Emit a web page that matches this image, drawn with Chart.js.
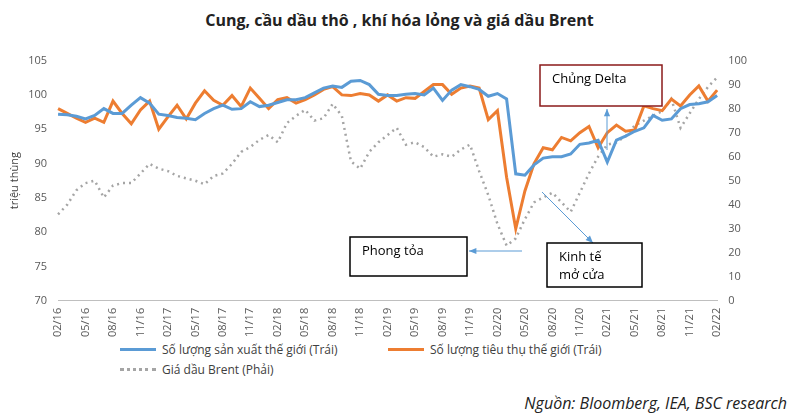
<!DOCTYPE html>
<html>
<head>
<meta charset="utf-8">
<script src="https://cdn.jsdelivr.net/npm/chart.js@4"></script>
<style>
body { margin: 0; width: 799px; height: 419px; background: #fff; font-family: "Open Sans", sans-serif; position: relative; overflow: hidden; }
#title { position: absolute; top: 9px; width: 799px; text-align: center; font-size: 16px; font-weight: bold; color: #222; }
#wrap { position: absolute; left: 4px; top: 51px; width: 756px; height: 289px; }
.leg { position: absolute; font-size: 12px; color: #404040; display: flex; align-items: center; }
.leg span.ln { display: inline-block; width: 36px; margin-right: 6px; }
#src { position: absolute; right: 12px; top: 392px; font-size: 16px; font-style: italic; color: #222; }
</style>
</head>
<body>
<div id="title">Cung, cầu dầu thô , khí hóa lỏng và giá dầu Brent</div>
<div id="wrap"><canvas id="c"></canvas></div>
<div class="leg" style="left:120px;top:341px"><span class="ln" style="border-top:3px solid #5B9BD5"></span>Số lượng sản xuất thế giới (Trái)</div>
<div class="leg" style="left:388px;top:341px"><span class="ln" style="border-top:3px solid #ED7D31"></span>Số lượng tiêu thụ thế giới (Trái)</div>
<div class="leg" style="left:120px;top:361px"><span class="ln" style="border-top:3px dotted #A5A5A5"></span>Giá dầu Brent (Phải)</div>
<div id="src">Nguồn: Bloomberg, IEA, BSC research</div>
<script>
const startYear = 16, startMonth = 2, monthCount = 73;
const months = [];
for (let i = 0; i < monthCount; i++) {
    const m = (startMonth - 1 + i) % 12 + 1;
    const y = startYear + Math.floor((startMonth - 1 + i) / 12);
    months.push(String(m).padStart(2, '0') + '/' + y);
}

const production = [97.2,97.1,96.9,96.5,97.0,98.0,97.3,97.3,98.5,99.6,98.8,97.2,97.0,96.7,96.6,96.4,97.3,98.0,98.5,97.9,98.0,99.0,98.3,98.5,98.9,99.3,99.3,99.6,100.3,101.0,101.3,101.1,102.0,102.1,101.5,100.1,99.9,99.9,100.1,100.2,100.0,101.0,99.2,100.7,101.5,101.2,100.8,99.8,100.2,99.4,88.5,88.3,89.8,90.8,91.0,91.0,91.4,92.8,93.0,93.4,90.2,93.4,94.0,94.7,95.2,97.0,96.3,96.5,98.0,98.6,98.7,99.0,99.9];
const consumption = [98.0,97.3,96.6,96.0,96.6,96.0,99.1,97.3,95.8,97.8,99.1,95.0,96.8,98.5,96.5,98.8,100.6,99.2,98.5,99.9,98.3,101.0,99.5,98.0,99.3,99.6,98.8,99.3,100.0,100.8,101.2,100.0,99.9,100.2,100.0,99.1,100.0,99.1,99.6,99.5,100.5,101.5,101.5,100.1,101.0,101.3,101.0,96.4,97.7,88.0,80.5,86.0,90.0,92.3,92.0,93.8,93.3,94.5,95.4,92.3,94.5,95.6,94.7,94.9,98.4,98.0,97.7,99.4,98.4,100.0,101.3,99.1,100.7];
const brent = [36,40,46,49,50,43,48,49,49,53,57,55,54,52,51,50,48.5,52,53,57,62,64,67,69,66,74,77,79.5,75,76,82,77,58,55,62,66,69,72,65,66,64,60,61,60,63,65,54,44,32,23,26,34,41,43,45,41,37,45,53,60,65,66,68.5,73,75,77,79,84,72,78,84,89,93];

const leftTicks = [70, 105, 5];
const rightTicks = [0, 100, 10];

// text boxes and arrows, placed relative to the canvas (canvas is at 4,51)
const notes = [
    { text: ['Phong tỏa'], x: 346, y: 186, w: 117, h: 39, color: '#000' },
    { text: ['Kinh tế', 'mở cửa'], x: 543, y: 192, w: 95, h: 44, color: '#000' },
    { text: ['Chủng Delta'], x: 536, y: 14, w: 122, h: 41, color: '#8B1A1A' }
];
const arrows = [
    [518, 200, 465, 200],
    [538, 141, 589, 192],
    [603, 99, 603, 58]
];

const annotate = {
    id: 'annotate',
    afterDatasetsDraw(chart) {
        const ctx = chart.ctx;
        ctx.save();
        arrows.forEach(([x1, y1, x2, y2]) => {
            ctx.strokeStyle = '#5B9BD5';
            ctx.fillStyle = '#5B9BD5';
            ctx.lineWidth = 1;
            ctx.beginPath(); ctx.moveTo(x1, y1); ctx.lineTo(x2, y2); ctx.stroke();
            const a = Math.atan2(y2 - y1, x2 - x1);
            ctx.beginPath();
            ctx.moveTo(x2, y2);
            ctx.lineTo(x2 - 8 * Math.cos(a - 0.4), y2 - 8 * Math.sin(a - 0.4));
            ctx.lineTo(x2 - 8 * Math.cos(a + 0.4), y2 - 8 * Math.sin(a + 0.4));
            ctx.fill();
        });
        notes.forEach(n => {
            ctx.fillStyle = '#fff';
            ctx.fillRect(n.x, n.y, n.w, n.h);
            ctx.strokeStyle = n.color;
            ctx.lineWidth = 1.5;
            ctx.strokeRect(n.x, n.y, n.w, n.h);
            ctx.fillStyle = '#000';
            ctx.font = '13px "Open Sans"';
            ctx.textBaseline = 'top';
            n.text.forEach((t, i) => ctx.fillText(t, n.x + 12, n.y + 8 + i * 18));
        });
        ctx.restore();
    }
};

new Chart(document.getElementById('c'), {
    type: 'line',
    data: {
        labels: months,
        datasets: [
            { data: production, borderColor: '#5B9BD5', borderWidth: 3, pointRadius: 0, tension: 0, yAxisID: 'y' },
            { data: consumption, borderColor: '#ED7D31', borderWidth: 3, pointRadius: 0, tension: 0, yAxisID: 'y' },
            { data: brent, borderColor: '#A5A5A5', borderWidth: 2.5, borderDash: [2, 4], pointRadius: 0, tension: 0, yAxisID: 'y1' }
        ]
    },
    options: {
        responsive: true,
        maintainAspectRatio: false,
        animation: false,
        layout: { padding: { top: 8, left: 0, right: 10 } },
        plugins: { legend: { display: false }, tooltip: { enabled: false } },
        scales: {
            x: {
                offset: false,
                grid: { display: false, drawTicks: true, tickLength: 4, color: '#bfbfbf' },
                border: { color: '#bfbfbf' },
                ticks: {
                    autoSkip: false, maxRotation: 90, minRotation: 90,
                    color: '#595959', font: { size: 11, family: 'Open Sans' },
                    callback: (v, i) => i % 3 === 0 ? months[i] : null
                }
            },
            y: {
                min: leftTicks[0], max: leftTicks[1],
                ticks: { stepSize: leftTicks[2], color: '#595959', font: { size: 11, family: 'Open Sans' } },
                grid: { display: false },
                border: { display: false },
                title: { display: true, text: 'triệu thùng', color: '#404040', font: { size: 11, family: 'Open Sans' } }
            },
            y1: {
                position: 'right',
                min: rightTicks[0], max: rightTicks[1],
                ticks: { stepSize: rightTicks[2], color: '#595959', font: { size: 11, family: 'Open Sans' } },
                grid: { display: false },
                border: { display: false }
            }
        }
    },
    plugins: [annotate]
});
</script>
</body>
</html>
